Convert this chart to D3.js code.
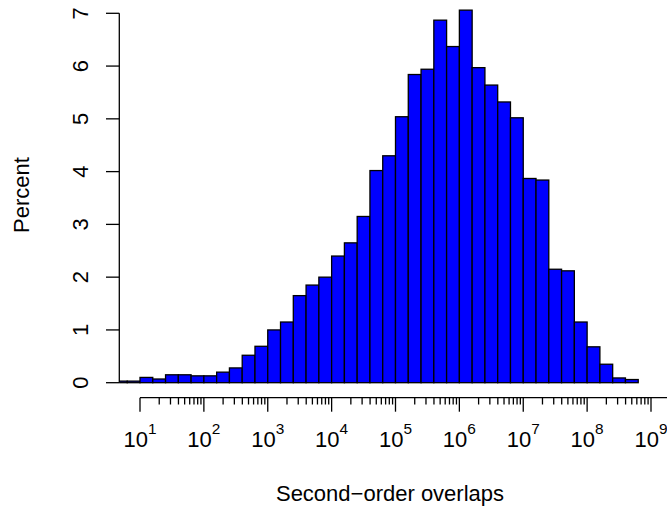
<!DOCTYPE html>
<html>
<head>
<meta charset="utf-8">
<script src="https://cdn.jsdelivr.net/npm/d3@7"></script>
<style>
  html, body { margin: 0; padding: 0; background: #fff; }
  svg { display: block; }
  text { font-family: "Liberation Sans", Arial, Helvetica, sans-serif; fill: #000; }
</style>
</head>
<body>
<script>
// ---- data (bins in log10 of second-order overlaps, width 0.2 decade) ----
const binStartExp = [0.6, 0.8, 1.0, 1.2, 1.4, 1.6, 1.8, 2.0, 2.2, 2.4, 2.6, 2.8,
                     3.0, 3.2, 3.4, 3.6, 3.8, 4.0, 4.2, 4.4, 4.6, 4.8,
                     5.0, 5.2, 5.4, 5.6, 5.8, 6.0, 6.2, 6.4, 6.6, 6.8,
                     7.0, 7.2, 7.4, 7.6, 7.8, 8.0, 8.2, 8.4, 8.6];
const binEndExp   = [0.8, 1.0, 1.2, 1.4, 1.6, 1.8, 2.0, 2.2, 2.4, 2.6, 2.8, 3.0,
                     3.2, 3.4, 3.6, 3.8, 4.0, 4.2, 4.4, 4.6, 4.8, 5.0,
                     5.2, 5.4, 5.6, 5.8, 6.0, 6.2, 6.4, 6.6, 6.8, 7.0,
                     7.2, 7.4, 7.6, 7.8, 8.0, 8.2, 8.4, 8.6, 8.8];
const percentValues = [0.03, 0.03, 0.10, 0.07, 0.15, 0.15, 0.13, 0.13, 0.20, 0.28, 0.52, 0.69,
                       1.00, 1.15, 1.65, 1.85, 2.00, 2.40, 2.65, 3.15, 4.02, 4.30,
                       5.04, 5.84, 5.94, 6.87, 6.37, 7.06, 5.97, 5.64, 5.32, 5.02,
                       3.87, 3.84, 2.15, 2.12, 1.15, 0.68, 0.35, 0.09, 0.06];
const xMajorExp = [1, 2, 3, 4, 5, 6, 7, 8, 9];
const xMinorMult = [2, 3, 4, 5, 6, 7, 8, 9];
const yTicks = [0, 1, 2, 3, 4, 5, 6, 7];
const xTitle = "Second\u2212order overlaps";
const yTitle = "Percent";

// ---- layout ----
const W = 667, H = 506;
const plotLeft = 119.3;
const fs = 22;

const svg = d3.select("body").append("svg")
  .attr("width", W).attr("height", H);
svg.append("rect").attr("width", W).attr("height", H).attr("fill", "#fff");

const x = d3.scaleLog().domain([1e1, 1e9]).range([140, 651]);
const y = d3.scaleLinear().domain([0, 7]).range([382.7, 13.3]);

svg.append("defs").append("clipPath").attr("id", "plotclip")
  .append("rect").attr("x", plotLeft).attr("y", 0).attr("width", 660 - plotLeft).attr("height", 400);

// ---- bars ----
const bins = binStartExp.map((s, i) => ({ x0: Math.pow(10, s), x1: Math.pow(10, binEndExp[i]), v: percentValues[i] }));
svg.append("g").attr("clip-path", "url(#plotclip)")
  .selectAll("rect").data(bins).join("rect")
  .attr("x", d => x(d.x0))
  .attr("width", d => x(d.x1) - x(d.x0))
  .attr("y", d => y(d.v))
  .attr("height", d => y(0) - y(d.v))
  .attr("fill", "#0000ff")
  .attr("stroke", "#000")
  .attr("stroke-width", 1.3);

// ---- y axis ----
const gy = svg.append("g").attr("transform", `translate(${plotLeft},0)`);
gy.append("line").attr("x1", 0).attr("x2", 0).attr("y1", y(7)).attr("y2", y(0))
  .attr("stroke", "#000").attr("stroke-width", 1.3);
gy.selectAll("line.tick").data(yTicks).join("line").attr("class", "tick")
  .attr("x1", 0).attr("x2", -13.3).attr("y1", d => y(d)).attr("y2", d => y(d))
  .attr("stroke", "#000").attr("stroke-width", 1.3);
svg.append("g").selectAll("text").data(yTicks).join("text")
  .attr("transform", d => `translate(88,${y(d)}) rotate(-90)`)
  .attr("text-anchor", "middle")
  .attr("font-size", fs)
  .text(d => d);

svg.append("text")
  .attr("transform", `translate(28.5,195) rotate(-90)`)
  .attr("text-anchor", "middle")
  .attr("font-size", fs)
  .text(yTitle);

// ---- x axis ----
const axisY = 397.7;
const minorVals = [];
xMajorExp.forEach(e => { xMinorMult.forEach(m => minorVals.push(m * Math.pow(10, e))); });
const gx = svg.append("g");
gx.append("line").attr("x1", x(1e1)).attr("x2", x(2e9)).attr("y1", axisY).attr("y2", axisY)
  .attr("stroke", "#000").attr("stroke-width", 1.3);
gx.selectAll("line.minor").data(minorVals).join("line").attr("class", "minor")
  .attr("x1", d => x(d)).attr("x2", d => x(d))
  .attr("y1", axisY).attr("y2", axisY + 6.8)
  .attr("stroke", "#000").attr("stroke-width", 1.3);
gx.selectAll("line.major").data(xMajorExp).join("line").attr("class", "major")
  .attr("x1", d => x(Math.pow(10, d))).attr("x2", d => x(Math.pow(10, d)))
  .attr("y1", axisY).attr("y2", axisY + 14)
  .attr("stroke", "#000").attr("stroke-width", 1.3);

const lbl = svg.append("g").selectAll("text").data(xMajorExp).join("text")
  .attr("x", d => x(Math.pow(10, d)))
  .attr("y", 447.3)
  .attr("text-anchor", "middle")
  .attr("font-size", fs);
lbl.append("tspan").text("10");
lbl.append("tspan").attr("font-size", fs * 0.7).attr("dy", -13.8).text(d => d);

svg.append("text")
  .attr("x", 390).attr("y", 501)
  .attr("text-anchor", "middle")
  .attr("font-size", fs)
  .text(xTitle);
</script>
</body>
</html>
